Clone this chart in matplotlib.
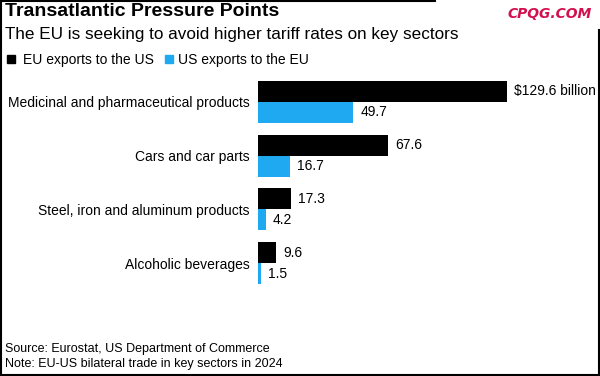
import matplotlib
matplotlib.use("Agg")
import matplotlib.pyplot as plt
from matplotlib.lines import Line2D
from matplotlib.patches import Rectangle
from matplotlib.transforms import offset_copy

plt.rcParams['font.family'] = ['Liberation Sans', 'DejaVu Sans']

categories = ["Medicinal and pharmaceutical products", "Cars and car parts",
              "Steel, iron and aluminum products", "Alcoholic beverages"]
eu_to_us = [129.6, 67.6, 17.3, 9.6]
us_to_eu = [49.7, 16.7, 4.2, 1.5]
eu_labels = ["$129.6 billion", "67.6", "17.3", "9.6"]
us_labels = ["49.7", "16.7", "4.2", "1.5"]

BLACK = "#000000"
BLUE = "#1fa9f1"

W, H = 600, 376
fig = plt.figure(figsize=(6, 3.76), dpi=100)

def fx(px):
    return px / W

def fy(py):
    return 1 - py / H

ax = fig.add_axes([fx(258), fy(284), fx(288), (284 - 81) / H])
pos = list(range(len(categories)))
h = 0.39
ax.barh([p - h / 2 for p in pos], eu_to_us, height=h, color=BLACK)
ax.barh([p + h / 2 for p in pos], us_to_eu, height=h, color=BLUE)
ax.set_xlim(0, 150)
ax.set_ylim(3 + 0.39, -0.39)
ax.set_yticks(pos, categories)
ax.tick_params(axis='y', length=0, pad=5.8, labelsize=10)
ax.set_xticks([])
for s in ax.spines.values():
    s.set_visible(False)

tr = offset_copy(ax.transData, fig=fig, x=7, y=0, units='dots')
for p, v, lab in zip(pos, eu_to_us, eu_labels):
    ax.text(v, p - h / 2, lab, transform=tr, va='center', ha='left',
            fontsize=10, clip_on=False)
for p, v, lab in zip(pos, us_to_eu, us_labels):
    ax.text(v, p + h / 2, lab, transform=tr, va='center', ha='left',
            fontsize=10, clip_on=False)

fig.text(fx(5), fy(12), "Transatlantic Pressure Points", fontsize=14,
         fontweight='bold', va='center', ha='left')
fig.text(fx(5), fy(34.5), "The EU is seeking to avoid higher tariff rates on key sectors",
         fontsize=12.3, va='center', ha='left')

# legend
fig.patches.append(Rectangle((fx(7), fy(63)), fx(8), 8 / H, color=BLACK,
                             transform=fig.transFigure))
fig.text(fx(23), fy(60), "EU exports to the US", fontsize=10, va='center', ha='left')
fig.patches.append(Rectangle((fx(165), fy(63)), fx(8), 8 / H, color=BLUE,
                             transform=fig.transFigure))
fig.text(fx(178), fy(60), "US exports to the EU", fontsize=10, va='center', ha='left')

fig.text(fx(508), fy(14), "CPQG.COM", fontsize=10, color="#d2104e",
         fontweight='bold', style='italic', family=['DejaVu Sans'],
         va='center', ha='left')

fig.text(fx(5), fy(349), "Source: Eurostat, US Department of Commerce",
         fontsize=9, va='center', ha='left')
fig.text(fx(5), fy(364), "Note: EU-US bilateral trade in key sectors in 2024",
         fontsize=9, va='center', ha='left')

# frame
lw = 1.5
fig.lines.append(Line2D([fx(1), fx(1)], [0, 1], color='black', lw=lw,
                        transform=fig.transFigure, zorder=10))
fig.lines.append(Line2D([0, fx(435)], [fy(1), fy(1)], color='black', lw=lw,
                        transform=fig.transFigure, zorder=10))
fig.lines.append(Line2D([fx(598.5), fx(598.5)], [fy(30), 0], color='black', lw=lw,
                        transform=fig.transFigure, zorder=10))
fig.lines.append(Line2D([0, 1], [fy(375), fy(375)], color='black', lw=lw,
                        transform=fig.transFigure, zorder=10))

fig.savefig("out.png", dpi=100)
